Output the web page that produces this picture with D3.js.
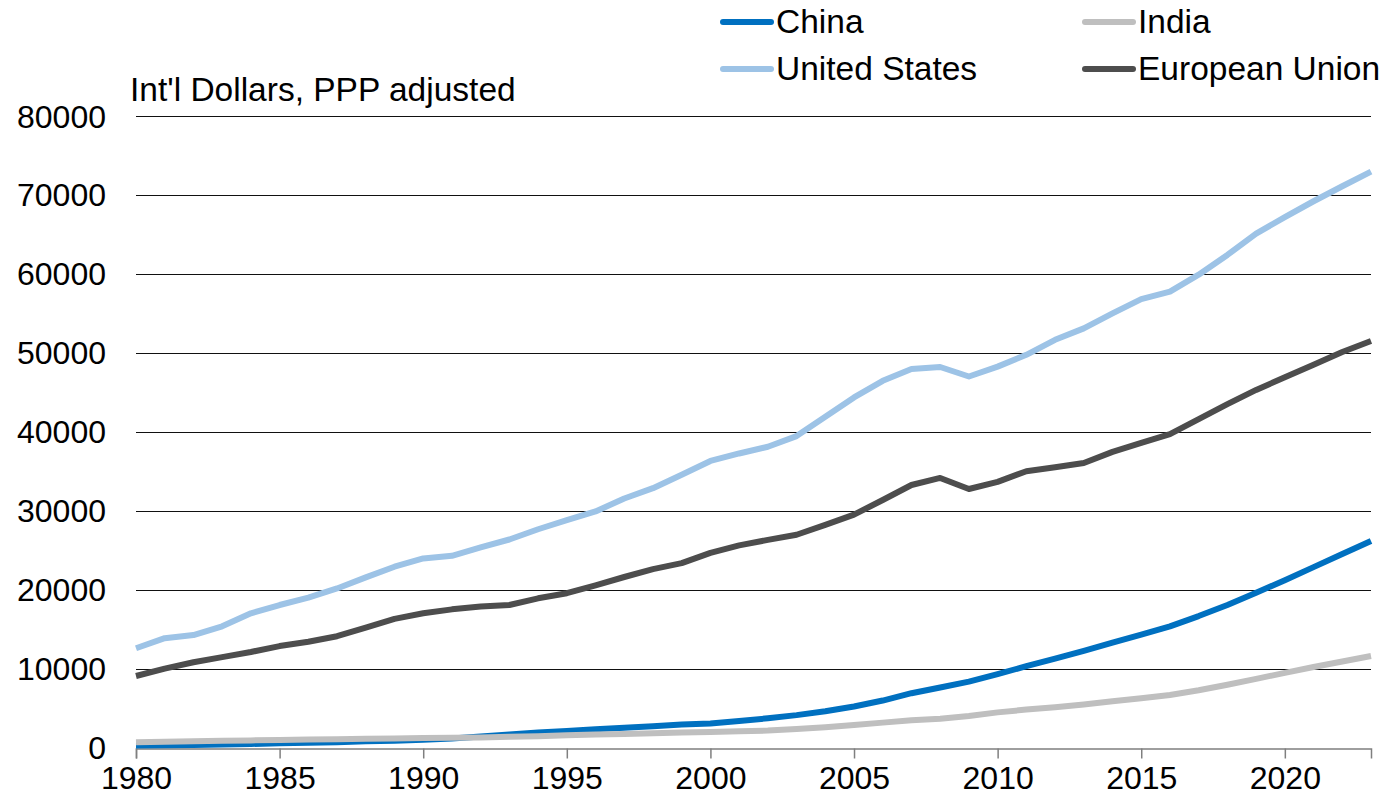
<!DOCTYPE html>
<html>
<head>
<meta charset="utf-8">
<script src="https://cdn.jsdelivr.net/npm/d3@7"></script>
<style>
  body { margin: 0; background: #fff; }
  svg { display: block; font-family: "Liberation Sans", Arial, sans-serif; }
</style>
</head>
<body>
<div id="chart"></div>
<script>
// years on the x axis
var years = d3.range(1980, 2024);

// GDP per capita, Int'l dollars PPP adjusted
var china = [250, 290, 330, 380, 450, 530, 590, 680, 780, 840,
    980, 1150, 1380, 1650, 1900, 2100, 2300, 2500, 2700, 2900,
    3050, 3350, 3700, 4100, 4600, 5200, 5950, 6880, 7600, 8350,
    9300, 10300, 11250, 12250, 13300, 14300, 15350, 16650, 18050, 19600,
    21200, 22850, 24500, 26150];
var us = [12570, 13850, 14250, 15350, 17000, 18050, 18980, 20150, 21550, 22900,
    23950, 24280, 25350, 26350, 27650, 28800, 29900, 31550, 32850, 34550,
    36300, 37250, 38100, 39450, 41900, 44350, 46450, 47950, 48200, 47000,
    48250, 49750, 51650, 53100, 55000, 56800, 57750, 59900, 62400, 65100,
    67200, 69200, 71100, 72950];
var india = [650, 740, 790, 850, 900, 960, 1000, 1040, 1100, 1150,
    1200, 1220, 1280, 1350, 1440, 1550, 1650, 1720, 1800, 1900,
    1950, 2050, 2150, 2350, 2580, 2850, 3150, 3450, 3650, 4000,
    4450, 4800, 5100, 5450, 5850, 6250, 6650, 7250, 7950, 8700,
    9450, 10200, 10900, 11600];
var eu = [9060, 10000, 10800, 11450, 12100, 12850, 13400, 14100, 15200, 16300,
    17000, 17500, 17850, 18050, 18900, 19550, 20550, 21600, 22600, 23350,
    24650, 25600, 26300, 26950, 28200, 29500, 31350, 33250, 34150, 32750,
    33650, 35000, 35500, 36050, 37450, 38600, 39700, 41600, 43500, 45300,
    46900, 48500, 50100, 51500];

var yTicks = [0, 10000, 20000, 30000, 40000, 50000, 60000, 70000, 80000];
var xTicks = [1980, 1985, 1990, 1995, 2000, 2005, 2010, 2015, 2020];

var series = [
    { name: "China", values: china, color: "#0070c0" },
    { name: "United States", values: us, color: "#9dc3e6" },
    { name: "India", values: india, color: "#bfbfbf" },
    { name: "European Union", values: eu, color: "#4d4d4d" }
];

var width = 1387, height = 805;
var margin = { top: 116, right: 16, bottom: 58, left: 136 };

var svg = d3.select("#chart")
    .append("svg")
    .attr("width", width)
    .attr("height", height);

var x = d3.scaleLinear()
    .domain([1980, 2023])
    .range([margin.left, width - margin.right]);

var y = d3.scaleLinear()
    .domain([0, 80000])
    .range([height - margin.bottom + 0.5, margin.top]);

// gridlines
svg.append("g")
    .selectAll("line")
    .data(yTicks.slice(1))
    .enter()
    .append("line")
    .attr("x1", x(1980))
    .attr("x2", x(2023))
    .attr("y1", function(d) { return Math.round(y(d)) + 0.5; })
    .attr("y2", function(d) { return Math.round(y(d)) + 0.5; })
    .attr("stroke", "#111")
    .attr("stroke-width", 1.2);

// y labels
svg.append("g")
    .selectAll("text")
    .data(yTicks)
    .enter()
    .append("text")
    .attr("x", 106)
    .attr("y", function(d) { return y(d); })
    .attr("dy", "0.36em")
    .attr("text-anchor", "end")
    .attr("font-size", 32)
    .attr("fill", "#000")
    .text(function(d) { return d; });

// x axis
var xAxis = svg.append("g")
    .attr("transform", "translate(0," + (Math.round(y(0)) + 0.5) + ")")
    .call(d3.axisBottom(x).tickValues(xTicks).tickFormat(d3.format("d")).tickSize(10).tickPadding(8));
xAxis.select(".domain").attr("stroke", "#7f7f7f").attr("stroke-width", 1.5);
xAxis.selectAll(".tick line").attr("stroke", "#7f7f7f").attr("stroke-width", 1.5);
xAxis.selectAll(".tick text")
    .attr("font-size", 32)
    .attr("font-family", "Liberation Sans, Arial, sans-serif")
    .attr("fill", "#000");

// lines
var line = d3.line()
    .x(function(d, i) { return x(years[i]); })
    .y(function(d) { return y(d); });

svg.append("g")
    .selectAll("path")
    .data(series)
    .enter()
    .append("path")
    .attr("d", function(d) { return line(d.values); })
    .attr("fill", "none")
    .attr("stroke", function(d) { return d.color; })
    .attr("stroke-width", 6)
    .attr("stroke-linejoin", "round");

// y axis title
svg.append("text")
    .attr("x", 130)
    .attr("y", 101)
    .attr("font-size", 33.5)
    .attr("fill", "#000")
    .text("Int'l Dollars, PPP adjusted");

// legend, two columns
var legendPos = [[723, 22], [723, 69], [1085, 22], [1085, 69]];
var legend = svg.append("g")
    .selectAll("g")
    .data(series)
    .enter()
    .append("g")
    .attr("transform", function(d, i) { return "translate(" + legendPos[i][0] + "," + legendPos[i][1] + ")"; });

legend.append("line")
    .attr("x1", 0)
    .attr("x2", 48)
    .attr("stroke", function(d) { return d.color; })
    .attr("stroke-width", 6)
    .attr("stroke-linecap", "round");

legend.append("text")
    .attr("x", 53)
    .attr("y", 11)
    .attr("font-size", 33.5)
    .attr("fill", "#000")
    .text(function(d) { return d.name; });
</script>
</body>
</html>
